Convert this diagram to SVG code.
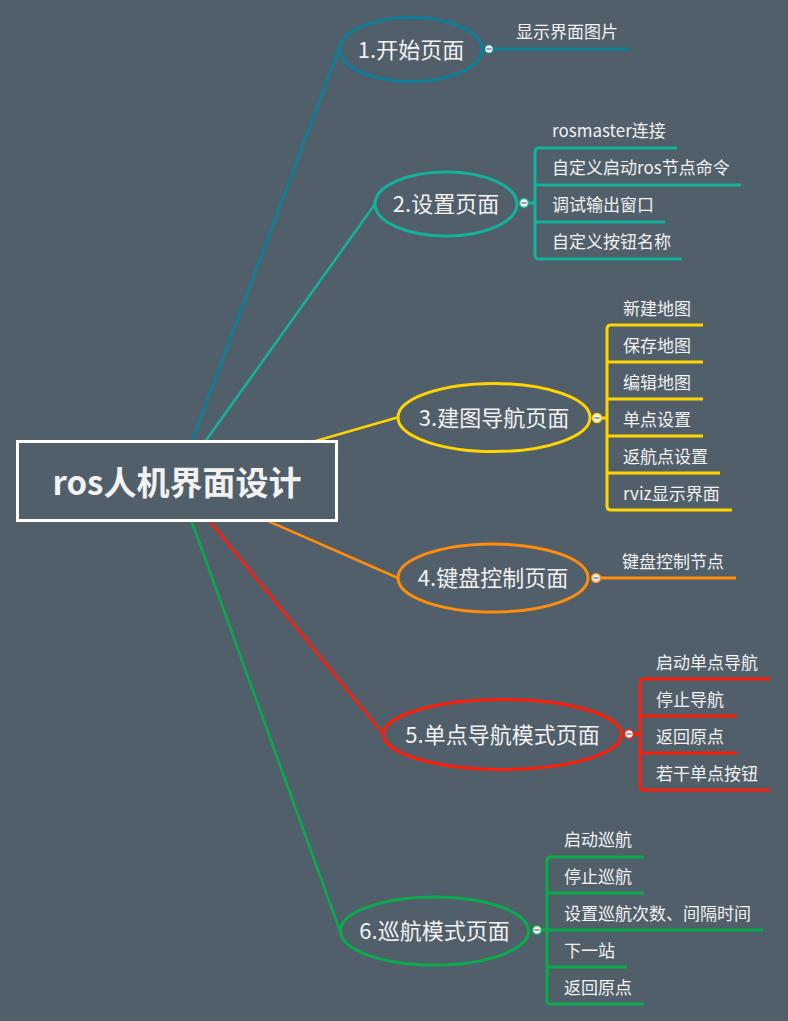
<svg xmlns="http://www.w3.org/2000/svg" width="788" height="1021" viewBox="0 0 788 1021">
<style>
text{font-family:"Noto Sans CJK SC","Noto Sans",sans-serif;fill:#f2f2f2}
.sub{font-size:17px}
.main{font-size:22px;text-anchor:middle}
.br{fill:none;stroke-width:2.5}
.ch{fill:none;stroke-width:3;stroke-linejoin:round}
.el{fill:#515f6b;stroke-width:3}
.c1{stroke:#0e7f98}.c2{stroke:#14b29c}.c3{stroke:#ffd500}.c4{stroke:#ff8c0a}.c5{stroke:#ff1e0a}.c6{stroke:#0aab4c}
.btn{fill:#f4f4f4;stroke-width:1.5}
.minus{stroke:#7a8590;stroke-width:1.5}
</style>
<rect width="788" height="1021" fill="#515f6b"/>
<g id="connectors">
<line class="br c1" x1="177" y1="481" x2="339" y2="49"/>
<line class="br c2" x1="177" y1="481" x2="375" y2="204"/>
<line class="br c3" x1="177" y1="481" x2="399" y2="417"/>
<line class="br c4" x1="177" y1="481" x2="398" y2="578"/>
<line class="br c5" x1="177" y1="481" x2="384" y2="735"/>
<line class="br c6" x1="177" y1="481" x2="340" y2="931"/>
<path class="ch c1" d="M489 49H630"/>
<path class="ch c2" d="M524 203H535M677 148H539Q535 148 535 152V255Q535 259 539 259H682M535 185H741M535 222H665"/>
<path class="ch c3" d="M597 418H607M703 325H611Q607 325 607 329V506Q607 510 611 510H732M607 362H703M607 399H703M607 436H703M607 473H720"/>
<path class="ch c4" d="M596 578H736"/>
<path class="ch c5" d="M629 734H640M770 679H644Q640 679 640 683V786Q640 790 644 790H770M640 716H737M640 753H737"/>
<path class="ch c6" d="M537 930H547M644 857H551Q547 857 547 861V1000Q547 1004 551 1004H644M547 893H644M547 930H763M547 967H627"/>
</g>
<g id="root">
<rect x="17.5" y="441.5" width="319" height="79" fill="#515f6b" stroke="#ffffff" stroke-width="3"/>
<text x="177" y="495" text-anchor="middle" font-size="33" font-weight="bold">ros人机界面设计</text>
</g>
<g id="n1">
<ellipse class="el c1" cx="411" cy="49.5" rx="71" ry="32"/>
<text class="main" x="411" y="57.5">1.开始页面</text>
<circle class="btn c1" cx="489" cy="49" r="4.5"/><line class="minus" x1="486.5" y1="49" x2="491.5" y2="49"/>
<text class="sub" x="516" y="38">显示界面图片</text>
</g>
<g id="n2">
<ellipse class="el c2" cx="446" cy="204" rx="71" ry="32"/>
<text class="main" x="446" y="212">2.设置页面</text>
<circle class="btn c2" cx="524" cy="203" r="4.5"/><line class="minus" x1="521.5" y1="203" x2="526.5" y2="203"/>
<text class="sub" x="552" y="137">rosmaster连接</text>
<text class="sub" x="552" y="174">自定义启动ros节点命令</text>
<text class="sub" x="552" y="211">调试输出窗口</text>
<text class="sub" x="552" y="248">自定义按钮名称</text>
</g>
<g id="n3">
<ellipse class="el c3" cx="494" cy="417.5" rx="96" ry="34"/>
<text class="main" x="494" y="425.5">3.建图导航页面</text>
<circle class="btn c3" cx="597" cy="418" r="4.5"/><line class="minus" x1="594.5" y1="418" x2="599.5" y2="418"/>
<text class="sub" x="623" y="315">新建地图</text>
<text class="sub" x="623" y="352">保存地图</text>
<text class="sub" x="623" y="389">编辑地图</text>
<text class="sub" x="623" y="426">单点设置</text>
<text class="sub" x="623" y="463">返航点设置</text>
<text class="sub" x="623" y="500">rviz显示界面</text>
</g>
<g id="n4">
<ellipse class="el c4" cx="493" cy="578" rx="95" ry="34"/>
<text class="main" x="493" y="586">4.键盘控制页面</text>
<circle class="btn c4" cx="596" cy="578" r="4.5"/><line class="minus" x1="593.5" y1="578" x2="598.5" y2="578"/>
<text class="sub" x="622" y="568">键盘控制节点</text>
</g>
<g id="n5">
<ellipse class="el c5" cx="502.5" cy="734.5" rx="119" ry="35"/>
<text class="main" x="502.5" y="742.5">5.单点导航模式页面</text>
<circle class="btn c5" cx="629" cy="734" r="4.5"/><line class="minus" x1="626.5" y1="734" x2="631.5" y2="734"/>
<text class="sub" x="656" y="669">启动单点导航</text>
<text class="sub" x="656" y="706">停止导航</text>
<text class="sub" x="656" y="743">返回原点</text>
<text class="sub" x="656" y="780">若干单点按钮</text>
</g>
<g id="n6">
<ellipse class="el c6" cx="434.5" cy="931" rx="94" ry="34"/>
<text class="main" x="434.5" y="939">6.巡航模式页面</text>
<circle class="btn c6" cx="537" cy="930" r="4.5"/><line class="minus" x1="534.5" y1="930" x2="539.5" y2="930"/>
<text class="sub" x="564" y="846">启动巡航</text>
<text class="sub" x="564" y="883">停止巡航</text>
<text class="sub" x="564" y="920">设置巡航次数、间隔时间</text>
<text class="sub" x="564" y="957">下一站</text>
<text class="sub" x="564" y="994">返回原点</text>
</g>
</svg>
